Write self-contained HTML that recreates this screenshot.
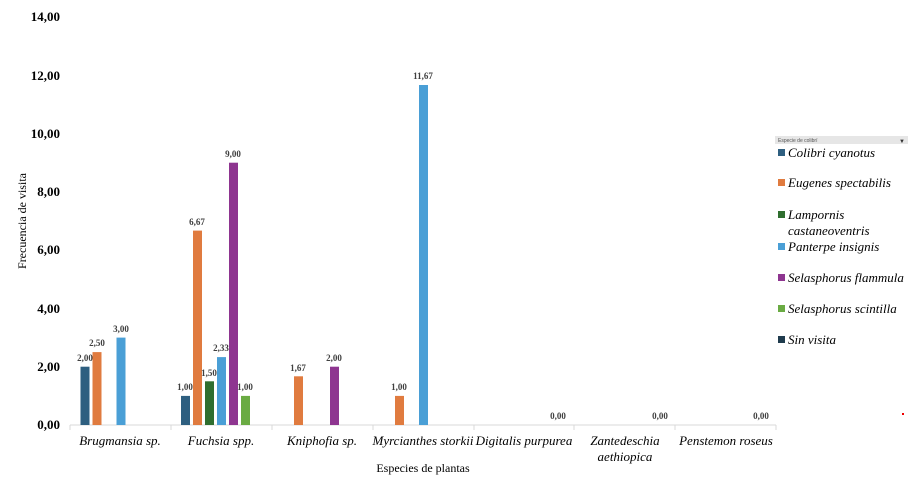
<!DOCTYPE html>
<html><head><meta charset="utf-8"><style>body{margin:0;background:#fff}svg{display:block}</style></head><body>
<svg width="923" height="489" xmlns="http://www.w3.org/2000/svg" font-family="Liberation Serif, serif">
<g font-weight="bold" font-size="13" text-anchor="end" fill="#000">
<text x="60" y="429">0,00</text><text x="60" y="371">2,00</text><text x="60" y="313">4,00</text><text x="60" y="254">6,00</text><text x="60" y="196">8,00</text><text x="60" y="138">10,00</text><text x="60" y="80">12,00</text><text x="60" y="21">14,00</text>
</g>
<line x1="70" y1="425" x2="776" y2="425" stroke="#d9d9d9"/>
<g stroke="#d9d9d9"><line x1="70" y1="425" x2="70" y2="430"/><line x1="171" y1="425" x2="171" y2="430"/><line x1="272" y1="425" x2="272" y2="430"/><line x1="373" y1="425" x2="373" y2="430"/><line x1="474" y1="425" x2="474" y2="430"/><line x1="574" y1="425" x2="574" y2="430"/><line x1="675" y1="425" x2="675" y2="430"/><line x1="776" y1="425" x2="776" y2="430"/></g>
<g>
<rect x="80.5" y="366.7" width="9" height="58.3" fill="#2e5f80"/>
<rect x="92.5" y="352.1" width="9" height="72.9" fill="#e07b3f"/>
<rect x="116.5" y="337.6" width="9" height="87.4" fill="#4a9fd6"/>
<rect x="181" y="395.9" width="9" height="29.1" fill="#2e5f80"/>
<rect x="193" y="230.6" width="9" height="194.4" fill="#e07b3f"/>
<rect x="205" y="381.3" width="9" height="43.7" fill="#2f6e2f"/>
<rect x="217" y="357.1" width="9" height="67.9" fill="#4a9fd6"/>
<rect x="229" y="162.7" width="9" height="262.3" fill="#8e3590"/>
<rect x="241" y="395.9" width="9" height="29.1" fill="#6aab43"/>
<rect x="294" y="376.3" width="9" height="48.7" fill="#e07b3f"/>
<rect x="330" y="366.7" width="9" height="58.3" fill="#8e3590"/>
<rect x="395" y="395.9" width="9" height="29.1" fill="#e07b3f"/>
<rect x="419" y="85" width="9" height="340" fill="#4a9fd6"/>
</g>
<g font-weight="bold" font-size="9" text-anchor="middle" fill="#404040">
<text x="85" y="361">2,00</text><text x="97" y="346">2,50</text><text x="121" y="332">3,00</text>
<text x="185" y="390">1,00</text><text x="197" y="225">6,67</text><text x="209" y="376">1,50</text><text x="221" y="351">2,33</text><text x="233" y="157">9,00</text><text x="245" y="390">1,00</text>
<text x="298" y="371">1,67</text><text x="334" y="361">2,00</text>
<text x="399" y="390">1,00</text><text x="423" y="79">11,67</text>
<text x="558" y="419">0,00</text><text x="660" y="419">0,00</text><text x="761" y="419">0,00</text>
</g>
<g font-style="italic" font-size="13" text-anchor="middle" fill="#000">
<text x="120" y="445">Brugmansia sp.</text><text x="221" y="445">Fuchsia spp.</text><text x="322" y="445">Kniphofia sp.</text><text x="423" y="445">Myrcianthes storkii</text><text x="524" y="445">Digitalis purpurea</text><text x="625" y="445">Zantedeschia</text><text x="625" y="461">aethiopica</text><text x="726" y="445">Penstemon roseus</text>
</g>
<text x="423" y="472" font-size="12" text-anchor="middle">Especies de plantas</text>
<text transform="translate(26,221) rotate(-90)" font-size="12" text-anchor="middle">Frecuencia de visita</text>
<rect x="775" y="136" width="133" height="8" fill="#e6e6e6"/>
<text x="778" y="142" font-size="5" fill="#555" font-family="Liberation Sans, sans-serif">Especie de colibrí</text>
<text x="899" y="143" font-size="6" fill="#333">▼</text>
<g font-style="italic" font-size="13" fill="#000">
<rect x="778" y="149" width="7" height="7" fill="#2e5f80"/><text x="788" y="157">Colibri cyanotus</text>
<rect x="778" y="179" width="7" height="7" fill="#e07b3f"/><text x="788" y="187">Eugenes spectabilis</text>
<rect x="778" y="211" width="7" height="7" fill="#2f6e2f"/><text x="788" y="219">Lampornis</text><text x="788" y="235">castaneoventris</text>
<rect x="778" y="243" width="7" height="7" fill="#4a9fd6"/><text x="788" y="251">Panterpe insignis</text>
<rect x="778" y="274" width="7" height="7" fill="#8e3590"/><text x="788" y="282">Selasphorus flammula</text>
<rect x="778" y="305" width="7" height="7" fill="#6aab43"/><text x="788" y="313">Selasphorus scintilla</text>
<rect x="778" y="336" width="7" height="7" fill="#1f3b4d"/><text x="788" y="344">Sin visita</text>
</g>
<rect x="902" y="413" width="2" height="2" fill="#e00"/>
</svg>
</body></html>
